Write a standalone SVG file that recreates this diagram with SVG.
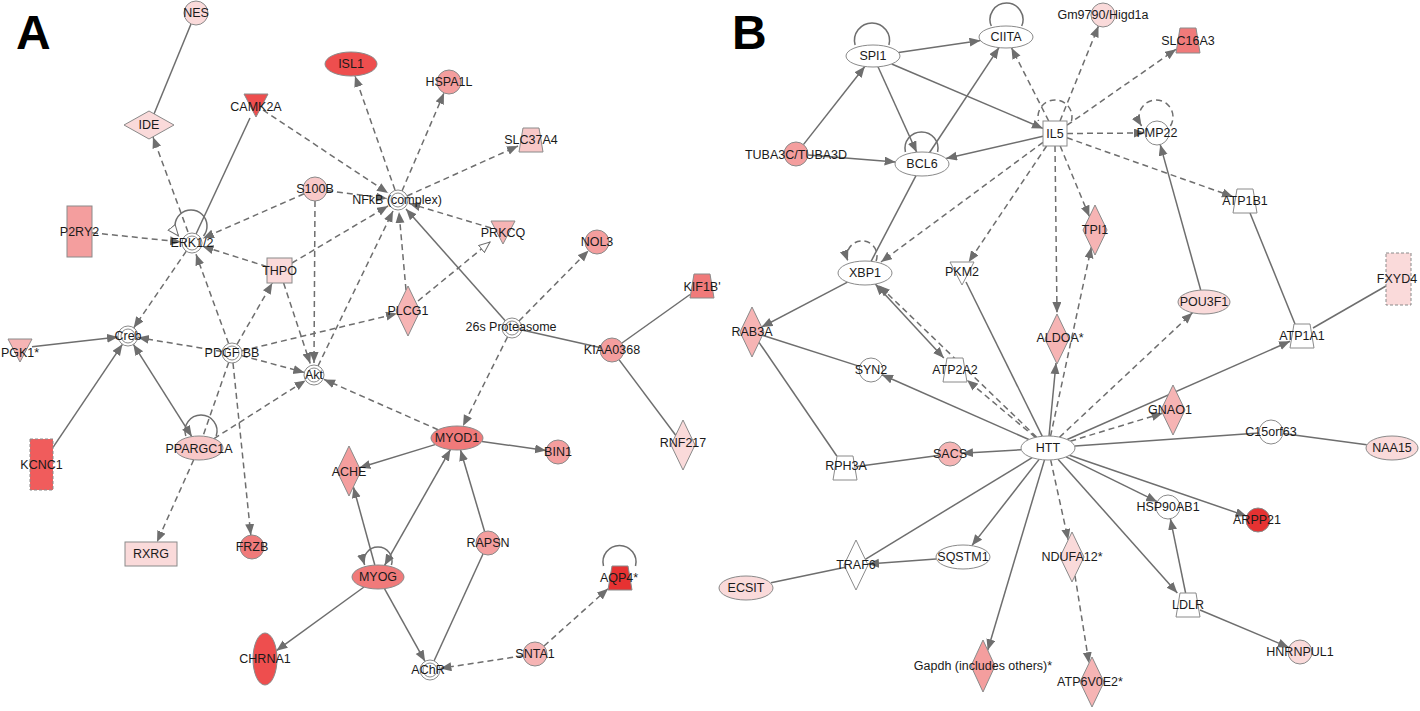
<svg xmlns="http://www.w3.org/2000/svg" width="1420" height="711" viewBox="0 0 1420 711">
<style>
.e{stroke:#6e6e6e;stroke-width:1.5;fill:none}
.d{stroke-dasharray:6 4}
.a{marker-end:url(#arr)}
.b{marker-start:url(#arr);marker-end:url(#arr)}
.o{marker-end:url(#open)}
.n{stroke:#8a8a8a;stroke-width:1}
.w{fill:#ffffff}
.c1{fill:#e63232}
.c2{fill:#ee4e4e}
.c3{fill:#f05c5c}
.c4{fill:#f07a7a}
.c5{fill:#f49e9e}
.c6{fill:#f6b4b4}
.c7{fill:#f8c8c8}
.c8{fill:#fadada}
.dash{stroke-dasharray:3 2}
text{font-family:"Liberation Sans",Arial,sans-serif;font-size:12.5px;fill:#1a1a1a;text-anchor:middle;dominant-baseline:central}
.big{font-size:48px;font-weight:bold;fill:#000;text-anchor:start;dominant-baseline:auto}
</style>
<defs>
<marker id="arr" markerUnits="userSpaceOnUse" markerWidth="12" markerHeight="10" refX="11" refY="4.5" orient="auto-start-reverse"><path d="M0,0 L11,4.5 L0,9 z" fill="#6e6e6e"/></marker>
<marker id="open" markerUnits="userSpaceOnUse" markerWidth="13" markerHeight="11" refX="11.5" refY="5" orient="auto"><path d="M0.5,0.5 L11.5,5 L0.5,9.5 z" fill="#ffffff" stroke="#6e6e6e" stroke-width="1"/></marker>
<path id="trap" d="M-8,-12 L8,-12 L12,12 L-12,12 Z"/>
<path id="tri" d="M-12,-11 L12,-11 L0,12 Z"/>
<path id="dia" d="M0,-25 L12,0 L0,25 L-12,0 Z"/>
</defs>
<rect x="0" y="0" width="1420" height="711" fill="#ffffff"/>
<text class="big" x="16" y="49">A</text>
<text class="big" x="732" y="49">B</text>

<g id="connectors">
<!-- Panel A -->
<line class="e" x1="191" y1="24" x2="154" y2="114"/>
<line class="e" x1="250" y1="118" x2="196" y2="234"/>
<line class="e d a" x1="188" y1="232" x2="153" y2="137"/>
<line class="e d a" x1="263" y1="110" x2="388" y2="193"/>
<line class="e d a" x1="395" y1="190" x2="355" y2="76"/>
<line class="e d a" x1="402" y1="191" x2="444" y2="93"/>
<line class="e d a" x1="407" y1="196" x2="518" y2="146"/>
<line class="e d a" x1="491" y1="228" x2="409.5" y2="203.5"/>
<line class="e d a" x1="327" y1="190.6" x2="387" y2="198.5"/>
<line class="e d a" x1="292" y1="263" x2="388" y2="206"/>
<line class="e d a" x1="318" y1="366" x2="393" y2="211"/>
<line class="e d a" x1="406" y1="290" x2="399" y2="212"/>
<line class="e a" x1="505" y1="320.5" x2="406" y2="209"/>
<line class="e d o" x1="418" y1="301" x2="490" y2="242"/>
<line class="e d a" x1="242" y1="350.7" x2="397" y2="313.6"/>
<line class="e d a" x1="438" y1="429.7" x2="324" y2="379.4"/>
<line class="e d a" x1="519" y1="321" x2="588.6" y2="250.5"/>
<line class="e d a" x1="507.5" y1="337" x2="463" y2="426"/>
<line class="e" x1="522" y1="330" x2="600" y2="347.4"/>
<line class="e" x1="622" y1="343" x2="690" y2="294.5"/>
<line class="e" x1="619" y1="359.6" x2="675.7" y2="435.2"/>
<line class="e a" x1="482" y1="441.5" x2="546" y2="450.4"/>
<line class="e a" x1="435" y1="444.6" x2="359.4" y2="467.8"/>
<line class="e b" x1="384.6" y1="565.4" x2="450.4" y2="449.6"/>
<line class="e a" x1="484.6" y1="531.5" x2="460.5" y2="450"/>
<line class="e a" x1="374.8" y1="565" x2="353.4" y2="487"/>
<line class="e a" x1="384.6" y1="588.8" x2="425" y2="661.3"/>
<line class="e" x1="483" y1="554" x2="434" y2="661"/>
<line class="e a" x1="364" y1="587" x2="276.4" y2="650.7"/>
<line class="e d a" x1="523" y1="655.8" x2="440.4" y2="668.4"/>
<line class="e d a" x1="544" y1="646" x2="608" y2="588.7"/>
<line class="e d a" x1="237" y1="344.3" x2="272.3" y2="283"/>
<line class="e d a" x1="267" y1="266.6" x2="202.5" y2="246.3"/>
<line class="e d a" x1="228.6" y1="343.6" x2="196" y2="254.3"/>
<line class="e d a" x1="283.6" y1="283" x2="310.2" y2="363.6"/>
<line class="e d a" x1="315" y1="201" x2="314" y2="363"/>
<line class="e d a" x1="304" y1="193.8" x2="203" y2="238.2"/>
<line class="e d a" x1="92" y1="232.8" x2="181" y2="241.9"/>
<line class="e d a" x1="186.3" y1="251.2" x2="133.7" y2="327.8"/>
<line class="e d a" x1="222" y1="351.4" x2="138" y2="337.6"/>
<line class="e a" x1="32" y1="346.7" x2="118" y2="337.1"/>
<line class="e a" x1="53" y1="447.4" x2="122.4" y2="344.3"/>
<line class="e b" x1="133.4" y1="344.4" x2="191.8" y2="436.6"/>
<line class="e d" x1="228.7" y1="362.4" x2="203" y2="436"/>
<line class="e d a" x1="241.7" y1="355.6" x2="304.3" y2="372.4"/>
<line class="e d a" x1="214" y1="438.6" x2="305.6" y2="380.4"/>
<line class="e d a" x1="233" y1="363" x2="250.8" y2="535"/>
<line class="e d a" x1="193.7" y1="459.8" x2="157" y2="542"/>
<path class="e o" d="M203.5,236 A16 16 0 1 0 178.5,236"/>
<path class="e" d="M216.2,436 A16 16 0 1 0 185.8,436"/>
<path class="e a" d="M391.4,565 A14 14 0 1 0 364.6,565"/>
<path class="e" d="M635.5,566 A16.5 16.5 0 1 0 603.5,566"/>
<!-- Panel B -->
<line class="e a" x1="898.5" y1="52.4" x2="980.5" y2="40.6"/>
<line class="e a" x1="891.7" y1="64" x2="1043" y2="128.4"/>
<line class="e a" x1="878" y1="66.8" x2="916.7" y2="152.2"/>
<line class="e a" x1="803.4" y1="144.6" x2="864.8" y2="66.5"/>
<line class="e a" x1="808" y1="155" x2="895.6" y2="161.9"/>
<line class="e a" x1="929.6" y1="152.5" x2="999" y2="47.6"/>
<line class="e a" x1="1043" y1="136.2" x2="946" y2="158.5"/>
<line class="e d a" x1="1048.7" y1="121" x2="1011.5" y2="47.8"/>
<line class="e d a" x1="1060" y1="121" x2="1098.5" y2="26.1"/>
<line class="e d a" x1="1067" y1="125.2" x2="1176" y2="49.3"/>
<line class="e d a" x1="1067" y1="133.5" x2="1145" y2="133"/>
<line class="e d a" x1="1067" y1="137.8" x2="1233" y2="196.7"/>
<line class="e d a" x1="1060.2" y1="146" x2="1089.4" y2="216.6"/>
<line class="e d a" x1="1055" y1="146" x2="1057" y2="313"/>
<line class="e d a" x1="1046.6" y1="146" x2="968.7" y2="262"/>
<line class="e d a" x1="1043" y1="142.3" x2="881" y2="262"/>
<path class="e d" d="M1071.5,121 A17 17 0 1 0 1038.5,121"/>
<path class="e d a" d="M876.1,261 A15 15 0 1 0 847.9,261"/>
<path class="e d a" d="M1170.4,126 A17 17 0 1 0 1141.6,126"/>
<path class="e" d="M888.9,45 A17.5 17.5 0 1 0 855.1,45"/>
<path class="e" d="M1021.7,26 A16.5 16.5 0 1 0 991.3,26"/>
<path class="e" d="M937.6,152 A16.5 16.5 0 1 0 905.4,152"/>
<line class="e" x1="916" y1="175.7" x2="871.1" y2="261.3"/>
<line class="e a" x1="847.5" y1="282.1" x2="761.6" y2="327"/>
<line class="e b" x1="875.3" y1="284.1" x2="943.8" y2="358"/>
<line class="e d a" x1="1036.6" y1="437.1" x2="879" y2="285.5"/>
<line class="e d a" x1="1035.4" y1="437.4" x2="967" y2="380.1"/>
<line class="e" x1="762.4" y1="335.3" x2="859.6" y2="366.4"/>
<line class="e" x1="759" y1="342.3" x2="836.8" y2="456"/>
<line class="e a" x1="1028.8" y1="439.5" x2="882" y2="374.8"/>
<line class="e" x1="1042.3" y1="436.4" x2="966" y2="282"/>
<line class="e a" x1="1049" y1="436" x2="1056" y2="363"/>
<line class="e d a" x1="1050.5" y1="436.3" x2="1091.3" y2="247.2"/>
<line class="e d a" x1="1059.5" y1="437.2" x2="1192.5" y2="312.8"/>
<line class="e a" x1="1200.7" y1="290" x2="1160.2" y2="144.6"/>
<line class="e" x1="1250" y1="213" x2="1295" y2="324"/>
<line class="e" x1="1313" y1="328" x2="1386" y2="286"/>
<line class="e a" x1="1067.2" y1="439.5" x2="1290" y2="341.3"/>
<line class="e d a" x1="1070.3" y1="441.2" x2="1162.6" y2="413.2"/>
<line class="e" x1="1075" y1="446" x2="1259" y2="432.9"/>
<line class="e" x1="1282.9" y1="433.6" x2="1366.7" y2="444.7"/>
<line class="e a" x1="1021" y1="449.7" x2="962" y2="453.3"/>
<line class="e" x1="938.1" y1="455.6" x2="857" y2="466.4"/>
<line class="e a" x1="1066.1" y1="456.9" x2="1157.2" y2="501.7"/>
<line class="e a" x1="1069.4" y1="455.3" x2="1246.6" y2="516.1"/>
<line class="e a" x1="1058" y1="459.2" x2="1177.3" y2="593"/>
<line class="e a" x1="1185.6" y1="593" x2="1170.4" y2="518.8"/>
<line class="e a" x1="1200" y1="610" x2="1288.9" y2="647.4"/>
<line class="e d a" x1="1050.7" y1="460.1" x2="1068.2" y2="540"/>
<line class="e d a" x1="1075" y1="575.8" x2="1089" y2="663.2"/>
<line class="e a" x1="1044.5" y1="459.9" x2="987.7" y2="650.2"/>
<line class="e a" x1="1039.1" y1="459.4" x2="971.9" y2="545.6"/>
<line class="e" x1="1032.1" y1="457.7" x2="865.3" y2="559.3"/>
<line class="e a" x1="936" y1="559" x2="868" y2="564.1"/>
<line class="e" x1="845.2" y1="567.3" x2="771" y2="582.8"/>
</g>

<!-- Panel A nodes -->
<g id="NES"><circle class="n c8" cx="196" cy="13" r="12"/><text x="196" y="13">NES</text></g>
<g id="ISL1"><ellipse class="n c2" cx="351" cy="64" rx="26" ry="12"/><text x="351" y="64">ISL1</text></g>
<g id="HSPA1L"><circle class="n c5" cx="449" cy="82" r="12"/><text x="449" y="82">HSPA1L</text></g>
<g id="CAMK2A"><use href="#tri" x="256" y="105" class="n c2"/><text x="256" y="107">CAMK2A</text></g>
<g id="IDE"><path class="n c8" d="M124,125 L149,111 L174,125 L149,139 Z"/><text x="149" y="125">IDE</text></g>
<g id="S100B"><circle class="n c7" cx="315" cy="189" r="12"/><text x="315" y="189">S100B</text></g>
<g id="SLC37A4"><use href="#trap" x="531" y="140" class="n c7"/><text x="531" y="140">SLC37A4</text></g>
<g id="NFkB"><circle class="n w" cx="398" cy="200" r="10"/><circle class="n w" cx="398" cy="200" r="7"/><text x="397" y="200">NFkB (complex)</text></g>
<g id="P2RY2"><rect class="n c5" x="67" y="206" width="25" height="51"/><text x="79.5" y="232">P2RY2</text></g>
<g id="ERK12"><circle class="n w" cx="192" cy="243" r="10"/><circle class="n w" cx="192" cy="243" r="7"/><text x="192" y="243">ERK1/2</text></g>
<g id="PRKCQ"><use href="#tri" x="503" y="232" class="n c6"/><text x="503" y="233">PRKCQ</text></g>
<g id="THPO"><rect class="n c8" x="267" y="258" width="25" height="25"/><text x="279.5" y="271">THPO</text></g>
<g id="NOL3"><circle class="n c5" cx="597" cy="242" r="12"/><text x="597" y="242">NOL3</text></g>
<g id="PLCG1"><use href="#dia" x="408" y="311" class="n c6"/><text x="408" y="311">PLCG1</text></g>
<g id="KIF1B"><use href="#trap" x="702" y="286" class="n c4"/><text x="702" y="287">KIF1B'</text></g>
<g id="Proteasome"><circle class="n w" cx="512" cy="328" r="10"/><circle class="n w" cx="512" cy="328" r="7"/><text x="511" y="327">26s Proteasome</text></g>
<g id="Creb"><circle class="n w" cx="128" cy="336" r="10"/><circle class="n w" cx="128" cy="336" r="7"/><text x="128" y="336">Creb</text></g>
<g id="PGK1"><use href="#tri" x="20" y="350" class="n c6"/><text x="20" y="353">PGK1*</text></g>
<g id="PDGFBB"><circle class="n w" cx="232" cy="353" r="10"/><circle class="n w" cx="232" cy="353" r="7"/><text x="232" y="353">PDGF BB</text></g>
<g id="KIAA0368"><circle class="n c5" cx="612" cy="350" r="12"/><text x="612" y="350">KIAA0368</text></g>
<g id="Akt"><circle class="n w" cx="314" cy="375" r="10"/><circle class="n w" cx="314" cy="375" r="7"/><text x="314" y="375">Akt</text></g>
<g id="RNF217"><use href="#dia" x="683" y="445" class="n c8"/><text x="683" y="443">RNF217</text></g>
<g id="MYOD1"><ellipse class="n c4" cx="457" cy="438" rx="26" ry="12"/><text x="457" y="438">MYOD1</text></g>
<g id="BIN1"><circle class="n c5" cx="558" cy="452" r="12"/><text x="558" y="452">BIN1</text></g>
<g id="ACHE"><use href="#dia" x="349" y="471" class="n c5"/><text x="349" y="472">ACHE</text></g>
<g id="PPARGC1A"><ellipse class="n c7" cx="199" cy="448" rx="24" ry="12"/><text x="199" y="449">PPARGC1A</text></g>
<g id="KCNC1"><rect class="n c3 dash" x="30" y="439" width="23" height="51"/><text x="41.5" y="465">KCNC1</text></g>
<g id="RXRG"><rect class="n c8" x="125" y="542" width="52" height="24"/><text x="151" y="554">RXRG</text></g>
<g id="FRZB"><circle class="n c4" cx="252" cy="547" r="12"/><text x="252" y="547">FRZB</text></g>
<g id="RAPSN"><circle class="n c5" cx="488" cy="543" r="12"/><text x="488" y="543">RAPSN</text></g>
<g id="MYOG"><ellipse class="n c4" cx="378" cy="577" rx="26" ry="12"/><text x="378" y="577">MYOG</text></g>
<g id="AQP4"><path class="n c1" d="M612,566 L628,566 L632,590 L608,590 Z"/><text x="619" y="578">AQP4*</text></g>
<g id="CHRNA1"><ellipse class="n c2" cx="265" cy="659" rx="12" ry="26"/><text x="265" y="659">CHRNA1</text></g>
<g id="SNTA1"><circle class="n c6" cx="535" cy="654" r="12"/><text x="535" y="654">SNTA1</text></g>
<g id="AChR"><circle class="n w" cx="430" cy="670" r="10"/><circle class="n w" cx="430" cy="670" r="7"/><text x="428" y="670">AChR</text></g>

<!-- Panel B nodes -->
<g id="SPI1"><ellipse class="n w" cx="873" cy="56" rx="27" ry="11"/><text x="873" y="56">SPI1</text></g>
<g id="CIITA"><ellipse class="n w" cx="1006" cy="37" rx="27" ry="11"/><text x="1006" y="37">CIITA</text></g>
<g id="Gm9790"><circle class="n c8" cx="1103" cy="15" r="12"/><text x="1103" y="15">Gm9790/Higd1a</text></g>
<g id="SLC16A3"><path class="n c4" d="M1180,28 L1196,28 L1200,53 L1176,53 Z"/><text x="1188" y="41">SLC16A3</text></g>
<g id="IL5"><rect class="n w" x="1043" y="121" width="24" height="25"/><text x="1055" y="133.5">IL5</text></g>
<g id="TUBA3C"><circle class="n c5" cx="796" cy="154" r="12"/><text x="796" y="155">TUBA3C/TUBA3D</text></g>
<g id="BCL6"><ellipse class="n w" cx="922" cy="164" rx="27" ry="12"/><text x="922" y="164">BCL6</text></g>
<g id="PMP22"><circle class="n w" cx="1157" cy="133" r="12"/><text x="1157" y="133">PMP22</text></g>
<g id="ATP1B1"><use href="#trap" x="1245" y="201" class="n w"/><text x="1245" y="201">ATP1B1</text></g>
<g id="TPI1"><use href="#dia" x="1095" y="230" class="n c6"/><text x="1095" y="230">TPI1</text></g>
<g id="XBP1"><ellipse class="n w" cx="865" cy="273" rx="27" ry="12"/><text x="865" y="273">XBP1</text></g>
<g id="PKM2"><use href="#tri" x="962" y="273" class="n w"/><text x="962" y="272">PKM2</text></g>
<g id="FXYD4"><rect class="n c8 dash" x="1386" y="253" width="25" height="52"/><text x="1397" y="279">FXYD4</text></g>
<g id="RAB3A"><use href="#dia" x="752" y="332" class="n c6"/><text x="752" y="332">RAB3A</text></g>
<g id="POU3F1"><ellipse class="n c8" cx="1204" cy="302" rx="26" ry="12"/><text x="1204" y="302">POU3F1</text></g>
<g id="ALDOA"><use href="#dia" x="1057" y="339" class="n c6"/><text x="1060" y="338">ALDOA*</text></g>
<g id="ATP1A1"><use href="#trap" x="1302" y="336" class="n w"/><text x="1302" y="336">ATP1A1</text></g>
<g id="SYN2"><circle class="n w" cx="871" cy="370" r="12"/><text x="871" y="370">SYN2</text></g>
<g id="ATP2A2"><use href="#trap" x="955" y="370" class="n w"/><text x="955" y="370">ATP2A2</text></g>
<g id="GNAO1"><use href="#dia" x="1173" y="410" class="n c6"/><text x="1170" y="410">GNAO1</text></g>
<g id="C15orf63"><circle class="n w" cx="1271" cy="432" r="12"/><text x="1271" y="432">C15orf63</text></g>
<g id="NAA15"><ellipse class="n c8" cx="1392" cy="448" rx="26" ry="12"/><text x="1392" y="448">NAA15</text></g>
<g id="HTT"><ellipse class="n w" cx="1048" cy="448" rx="27" ry="12"/><text x="1048" y="448">HTT</text></g>
<g id="SACS"><circle class="n c6" cx="950" cy="454" r="12"/><text x="950" y="454">SACS</text></g>
<g id="RPH3A"><use href="#trap" x="845" y="468" class="n w"/><text x="846" y="466">RPH3A</text></g>
<g id="HSP90AB1"><circle class="n w" cx="1168" cy="507" r="12"/><text x="1168" y="507">HSP90AB1</text></g>
<g id="ARPP21"><circle class="n c1" cx="1258" cy="520" r="12"/><text x="1257" y="520">ARPP21</text></g>
<g id="NDUFA12"><use href="#dia" x="1072" y="557" class="n c8"/><text x="1072" y="557">NDUFA12*</text></g>
<g id="TRAF6"><use href="#dia" x="856" y="565" class="n w"/><text x="856" y="565">TRAF6</text></g>
<g id="SQSTM1"><ellipse class="n w" cx="963" cy="557" rx="27" ry="12"/><text x="963" y="557">SQSTM1</text></g>
<g id="ECSIT"><ellipse class="n c8" cx="746" cy="588" rx="27" ry="12"/><text x="746" y="588">ECSIT</text></g>
<g id="LDLR"><use href="#trap" x="1188" y="605" class="n w"/><text x="1188" y="605">LDLR</text></g>
<g id="HNRNPUL1"><circle class="n c8" cx="1300" cy="652" r="12"/><text x="1300" y="652">HNRNPUL1</text></g>
<g id="Gapdh"><path class="n c5" d="M983,640 L995,666 L983,692 L971,666 Z"/><text x="983" y="666">Gapdh (includes others)*</text></g>
<g id="ATP6V0E2"><use href="#dia" x="1092" y="682" class="n c6"/><text x="1090" y="682">ATP6V0E2*</text></g>
</svg>
